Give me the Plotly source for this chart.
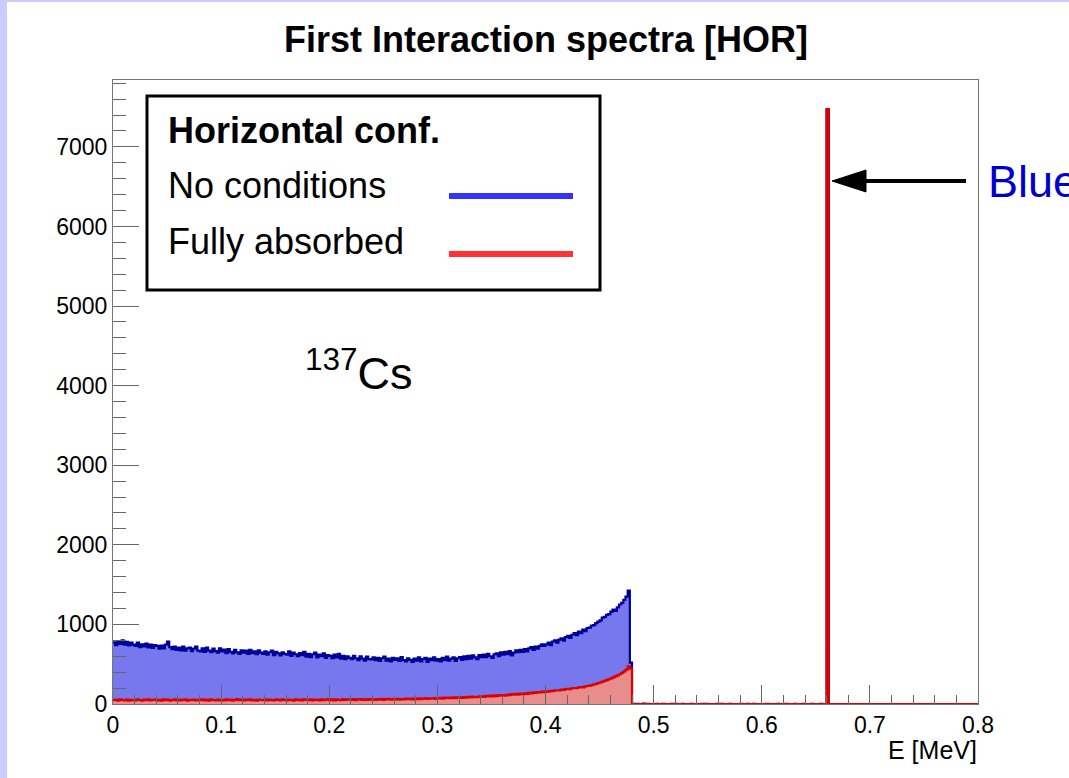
import numpy as np
import plotly.graph_objects as go

# ---------------- data ----------------
E_MIN, E_MAX, BIN_W = 0.0, 0.8, 0.002

# continuum, bins 0..239 (0.000 - 0.480 MeV)
no_conditions_cont = [
    775, 740, 790, 755, 800, 745, 780, 735, 770, 745,
    730, 770, 715, 750, 725, 760, 710, 745, 705, 740,
    730, 695, 735, 700, 745, 785, 715, 690, 720, 680,
    710, 675, 720, 670, 700, 710, 665, 695, 720, 670,
    660, 700, 655, 710, 670, 650, 695, 665, 645, 700,
    660, 685, 640, 690, 655, 635, 680, 650, 630, 675,
    645, 670, 630, 680, 640, 660, 625, 675, 645, 630,
    660, 620, 650, 670, 615, 655, 635, 610, 650, 630,
    620, 660, 605, 645, 625, 600, 640, 615, 655, 595,
    630, 590, 625, 645, 585, 620, 600, 635, 580, 615,
    605, 575, 620, 585, 630, 570, 605, 565, 600, 580,
    565, 605, 575, 550, 600, 570, 545, 595, 565, 560,
    585, 550, 580, 540, 575, 595, 545, 570, 535, 580,
    555, 575, 540, 590, 550, 535, 575, 555, 530, 570,
    545, 585, 535, 565, 580, 530, 570, 550, 585, 545,
    565, 535, 580, 550, 595, 545, 570, 585, 540, 575,
    590, 555, 600, 565, 605, 570, 610, 585, 565, 615,
    590, 620, 590, 630, 600, 580, 625, 635, 600, 650,
    620, 655, 625, 665, 610, 645, 675, 650, 680, 655,
    690, 660, 700, 715, 680, 720, 695, 730, 750, 730,
    750, 770, 740, 785, 800, 770, 810, 825, 795, 840,
    855, 830, 870, 890, 865, 910, 890, 935, 915, 955,
    960, 985, 990, 1015, 1035, 1050, 1085, 1095, 1120, 1130,
    1160, 1185, 1170, 1215, 1250, 1270, 1310, 1350, 1425, 520,
]
fully_absorbed_cont = [
    48, 55, 43, 58, 50, 45, 56, 42, 53, 49,
    44, 57, 50, 41, 54, 47, 58, 44, 51, 55,
    46, 53, 42, 59, 48, 54, 43, 50, 57, 46,
    54, 44, 51, 58, 42, 53, 47, 56, 44, 51,
    48, 57, 45, 54, 43, 59, 50, 46, 55, 44,
    52, 45, 58, 48, 54, 42, 51, 60, 47, 55,
    44, 54, 48, 57, 45, 52, 43, 56, 50, 47,
    58, 45, 54, 48, 44, 57, 51, 46, 59, 50,
    45, 56, 50, 43, 58, 48, 54, 45, 57, 51,
    48, 59, 46, 55, 51, 44, 58, 49, 54, 60,
    49, 57, 46, 59, 53, 48, 61, 50, 57, 54,
    51, 60, 49, 57, 63, 52, 58, 50, 61, 55,
    57, 51, 62, 55, 64, 53, 60, 65, 56, 62,
    58, 66, 56, 63, 59, 68, 60, 67, 58, 69,
    62, 70, 60, 67, 73, 63, 71, 66, 75, 65,
    69, 77, 67, 79, 72, 81, 73, 83, 75, 82,
    84, 77, 88, 80, 91, 83, 93, 86, 85, 95,
    97, 90, 101, 94, 105, 97, 108, 100, 111, 104,
    112, 106, 118, 112, 123, 116, 127, 119, 131, 125,
    135, 128, 140, 134, 145, 139, 150, 145, 155, 150,
    160, 154, 166, 160, 171, 172, 170, 180, 176, 187,
    190, 186, 198, 200, 198, 209, 212, 210, 221, 226,
    230, 238, 245, 252, 262, 270, 280, 290, 300, 312,
    322, 334, 346, 360, 374, 392, 410, 432, 472, 445,
]
# bins 240..399 (0.480 - 0.800 MeV); photopeak at 0.660-0.662
no_conditions_tail = [
    3, 0, 2, 0, 0, 4, 0, 2, 0, 0,
    0, 3, 0, 0, 2, 0, 0, 0, 3, 0,
    2, 0, 0, 3, 0, 0, 0, 2, 0, 0,
    0, 0, 2, 0, 3, 0, 0, 0, 0, 2,
    0, 3, 0, 0, 0, 2, 0, 0, 0, 0,
    2, 0, 0, 3, 0, 0, 2, 0, 0, 0,
    0, 0, 3, 0, 0, 0, 0, 2, 0, 0,
    0, 2, 0, 0, 0, 3, 0, 0, 0, 2,
    0, 0, 0, 2, 0, 0, 0, 3, 0, 0,
    7475, 0, 0, 0, 0, 0, 0, 0, 0, 0,
    0, 0, 0, 0, 0, 0, 0, 0, 0, 0,
    0, 0, 0, 0, 0, 0, 0, 0, 0, 0,
    0, 0, 0, 0, 0, 0, 0, 0, 0, 0,
    0, 0, 0, 0, 0, 0, 0, 0, 0, 0,
    0, 0, 0, 0, 0, 0, 0, 0, 0, 0,
    0, 0, 0, 0, 0, 0, 0, 0, 0, 0,
]
fully_absorbed_tail = [
    0, 0, 0, 0, 0, 0, 0, 0, 0, 0,
    0, 0, 0, 0, 0, 0, 0, 0, 0, 0,
    0, 0, 0, 0, 0, 0, 0, 0, 0, 0,
    0, 0, 0, 0, 0, 0, 0, 0, 0, 0,
    0, 0, 0, 0, 0, 0, 0, 0, 0, 0,
    0, 0, 0, 0, 0, 0, 0, 0, 0, 0,
    0, 0, 0, 0, 0, 0, 0, 0, 0, 0,
    0, 0, 0, 0, 0, 0, 0, 0, 0, 0,
    0, 0, 0, 0, 0, 0, 0, 0, 0, 0,
    7475, 0, 0, 0, 0, 0, 0, 0, 0, 0,
    0, 0, 0, 0, 0, 0, 0, 0, 0, 0,
    0, 0, 0, 0, 0, 0, 0, 0, 0, 0,
    0, 0, 0, 0, 0, 0, 0, 0, 0, 0,
    0, 0, 0, 0, 0, 0, 0, 0, 0, 0,
    0, 0, 0, 0, 0, 0, 0, 0, 0, 0,
    0, 0, 0, 0, 0, 0, 0, 0, 0, 0,
]

no_conditions = no_conditions_cont + no_conditions_tail
fully_absorbed = fully_absorbed_cont + fully_absorbed_tail
n_bins = len(no_conditions)
edges = E_MIN + BIN_W * np.arange(n_bins + 1)

x_ticks = [0, 0.1, 0.2, 0.3, 0.4, 0.5, 0.6, 0.7, 0.8]
x_tick_labels = ["0", "0.1", "0.2", "0.3", "0.4", "0.5", "0.6", "0.7", "0.8"]
y_ticks = [0, 1000, 2000, 3000, 4000, 5000, 6000, 7000]
y_tick_labels = ["0", "1000", "2000", "3000", "4000", "5000", "6000", "7000"]

# ---------------- layout geometry ----------------
W, H = 1069, 778
L, R, T, B = 113, 91, 80, 74
PW, PH = W - L - R, H - T - B
FONT = "Liberation Sans, Arial, Helvetica, sans-serif"


def px(x):
    return (x - L) / PW


def py(y):
    return (H - B - y) / PH


fig = go.Figure()
fig.add_trace(go.Scatter(
    x=edges, y=list(no_conditions) + [no_conditions[-1]],
    mode="lines", line=dict(shape="hv", color="#000099", width=2.2),
    fill="tozeroy", fillcolor="rgb(120,120,238)", showlegend=False,
    name="No conditions"))
fig.add_trace(go.Scatter(
    x=edges, y=list(fully_absorbed) + [fully_absorbed[-1]],
    mode="lines", line=dict(shape="hv", color="#dd0000", width=2.2),
    fill="tozeroy", fillcolor="rgb(232,140,140)", showlegend=False,
    name="Fully absorbed"))

shapes = [
    # white pad over lavender canvas
    dict(type="rect", xref="paper", yref="paper", layer="below",
         x0=px(7), x1=px(W + 5), y0=py(H + 5), y1=py(2),
         fillcolor="white", line=dict(width=0)),
    # legend box
    dict(type="rect", xref="paper", yref="paper",
         x0=px(147), x1=px(600), y0=py(290), y1=py(96),
         fillcolor="white", line=dict(color="black", width=3)),
    dict(type="line", xref="paper", yref="paper",
         x0=px(449), x1=px(573), y0=py(196), y1=py(196),
         line=dict(color="#3333ff", width=6)),
    dict(type="line", xref="paper", yref="paper",
         x0=px(449), x1=px(573), y0=py(254), y1=py(254),
         line=dict(color="#ff3333", width=6)),
    # arrow
    dict(type="line", xref="paper", yref="paper",
         x0=px(862), x1=px(966), y0=py(181), y1=py(181),
         line=dict(color="black", width=4)),
    dict(type="path", xref="paper", yref="paper",
         path=f"M {px(832)},{py(181)} L {px(866)},{py(170)} L {px(866)},{py(192)} Z",
         fillcolor="black", line=dict(color="black", width=1)),
]

annotations = [
    dict(text="<b>First Interaction spectra [HOR]</b>", x=px(546), y=py(39),
         font=dict(size=36, color="black", family=FONT)),
    dict(text="<b>Horizontal conf.</b>", x=px(166), y=py(130), xanchor="left",
         font=dict(size=36, color="black", family=FONT)),
    dict(text="No conditions", x=px(166), y=py(186), xanchor="left",
         font=dict(size=36, color="black", family=FONT)),
    dict(text="Fully absorbed", x=px(166), y=py(242), xanchor="left",
         font=dict(size=36, color="black", family=FONT)),
    dict(text="<sup>137</sup>Cs", x=px(303), y=py(370), xanchor="left",
         font=dict(size=45, color="black", family=FONT)),
    dict(text="Blue", x=px(986), y=py(181), xanchor="left",
         font=dict(size=45, color="#0000cc", family=FONT)),
    dict(text="E [MeV]", x=px(979), y=py(750), xanchor="right",
         font=dict(size=25, color="black", family=FONT)),
]
for a in annotations:
    a.update(xref="paper", yref="paper", showarrow=False)
    a.setdefault("xanchor", "center")
    a.setdefault("yanchor", "middle")

fig.update_layout(
    width=W, height=H,
    margin=dict(l=L, r=R, t=T, b=B, pad=0),
    paper_bgcolor="#ccccff", plot_bgcolor="white",
    shapes=shapes, annotations=annotations,
    font=dict(family=FONT, color="black"),
    showlegend=False,
)
fig.update_xaxes(
    range=[E_MIN, E_MAX], tickvals=x_ticks, ticktext=x_tick_labels,
    ticks="inside", ticklen=19, tickcolor="#666", tickwidth=1,
    tickfont=dict(size=23, family=FONT, color="black"),
    showgrid=False, zeroline=False, showline=True, linecolor="#777",
    linewidth=1, mirror=True,
    minor=dict(dtick=0.02, ticks="inside", ticklen=9, tickcolor="#666",
               showgrid=False),
)
fig.update_yaxes(
    range=[0, 7840], tickvals=y_ticks, ticktext=y_tick_labels,
    ticks="inside", ticklen=26, tickcolor="#666", tickwidth=1,
    tickfont=dict(size=23, family=FONT, color="black"),
    showgrid=False, zeroline=False, showline=True, linecolor="#777",
    linewidth=1, mirror=True,
    minor=dict(dtick=200, ticks="inside", ticklen=13, tickcolor="#666",
               showgrid=False),
)

fig.write_html("out.html")
